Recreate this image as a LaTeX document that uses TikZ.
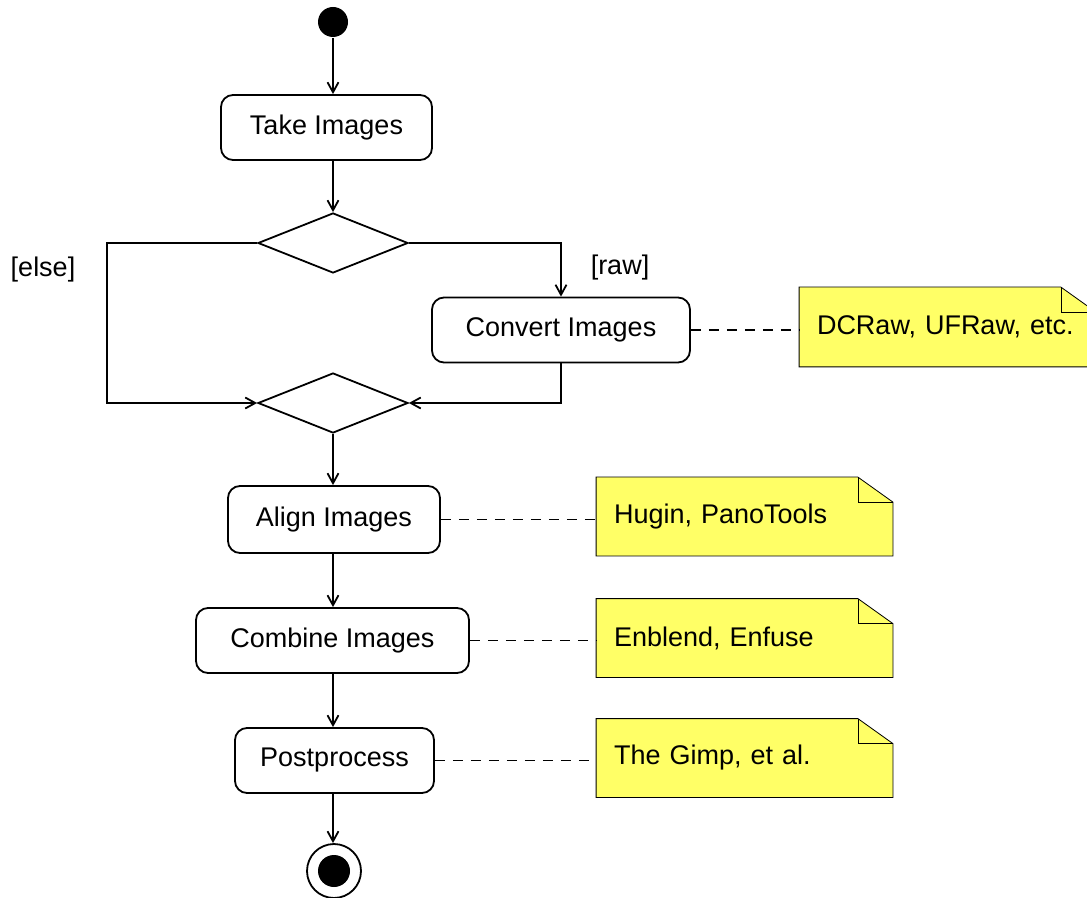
\documentclass[tikz,border=0pt]{standalone}
\usepackage{fontspec}
\setmainfont{Liberation Sans}
\usetikzlibrary{shapes.geometric,arrows.meta,backgrounds}
\definecolor{noteyellow}{RGB}{255,255,102}
\def\dogear(#1){\draw[fill=noteyellow] (#1.south west) -- (#1.north west) -- ([xshift=-17.5pt]#1.north east) -- ([yshift=-12.5pt]#1.north east) -- (#1.south east) -- cycle; \draw ([xshift=-17.5pt]#1.north east) |- ([yshift=-12.5pt]#1.north east);}

\begin{document}
\begin{tikzpicture}[x=0.5pt, y=-0.5pt, line width=0.9pt,
		font=\fontsize{13.5}{16}\selectfont,
		activity/.style={draw, rounded corners=6pt, minimum height=32.5pt, inner sep=0pt},
		decision/.style={draw, diamond, minimum width=75pt, minimum height=30pt, inner sep=0pt},
		note/.style={text width=130.5pt, inner xsep=8.5pt, minimum height=38.5pt, align=left},
		flow/.style={-{Straight Barb[length=5pt,width=5.5pt]}},
		trace/.style={dash pattern=on 5pt off 4pt}]
			%%%%% START %%%%%
			
			\useasboundingbox (0, 0) rectangle (1087, 898);
			
			\node[circle, fill, minimum size=15pt, inner sep=0pt] (start) at (333, 22) {};
			\node[activity, minimum width=105.5pt] (take) at (326.5, 127.5) {Take Images};
			
			\node[decision] (split) at (333, 243) {};
			\coordinate (elseturn) at (107, 243);
			\node (elselabel) at (43, 270) {[else]};
			\node (rawlabel) at (620, 268) {[raw]};
			\node[activity, minimum width=129pt] (convert) at (561, 330) {Convert Images};
			\node[decision] (merge) at (333, 403) {};
			
			\node[activity, minimum width=106pt, minimum height=33.5pt] (align) at (334, 519.5) {Align Images};
			\node[activity, minimum width=136.5pt] (combine) at (332.5, 640.5) {Combine Images};
			\node[activity, minimum width=99.5pt] (post) at (334.5, 760.5) {Postprocess};
			
			\node[circle, draw, minimum size=27pt, inner sep=0pt] (stop) at (334, 871) {};
			\fill (stop.center) circle (8pt);
			
			%%%%% NOTES %%%%%
			
			\node[note, minimum height=39pt] (dcraw) at (947.5, 327) {DCRaw, UFRaw, etc.};
			\node[note] (hugin) at (744.5, 516.5) {Hugin, PanoTools};
			\node[note] (enblend) at (744.5, 638) {Enblend, Enfuse};
			\node[note] (gimp) at (744.5, 758) {The Gimp, et al.};
			\begin{scope}[on background layer]
				\dogear(dcraw)
				\dogear(hugin)
				\dogear(enblend)
				\dogear(gimp)
			\end{scope}
			
			%%%%% FLOW %%%%%
			
			\draw[flow] (start) -- (start |- take.north);
			\draw[flow] (split.north |- take.south) -- (split.north);
			\draw[flow] (split.west) -- (elseturn) |- (merge.west);
			\draw[flow] (split.east) -| (convert.north);
			\draw[flow] (convert.south) |- (merge.east);
			\draw[flow] (merge.south) -- (merge.south |- align.north);
			\draw[flow] (merge.south |- align.south) -- (merge.south |- combine.north);
			\draw[flow] (merge.south |- combine.south) -- (merge.south |- post.north);
			\draw[flow] (merge.south |- post.south) -- (merge.south |- stop.north);
			
			\draw[trace] (convert.east) -- (convert.east -| dcraw.west);
			\draw[trace] (align.east) -- (align.east -| hugin.west);
			\draw[trace] (combine.east) -- (combine.east -| enblend.west);
			\draw[trace] (post.east) -- (post.east -| gimp.west);
			
			%%%%% END %%%%%
\end{tikzpicture}
\end{document}
